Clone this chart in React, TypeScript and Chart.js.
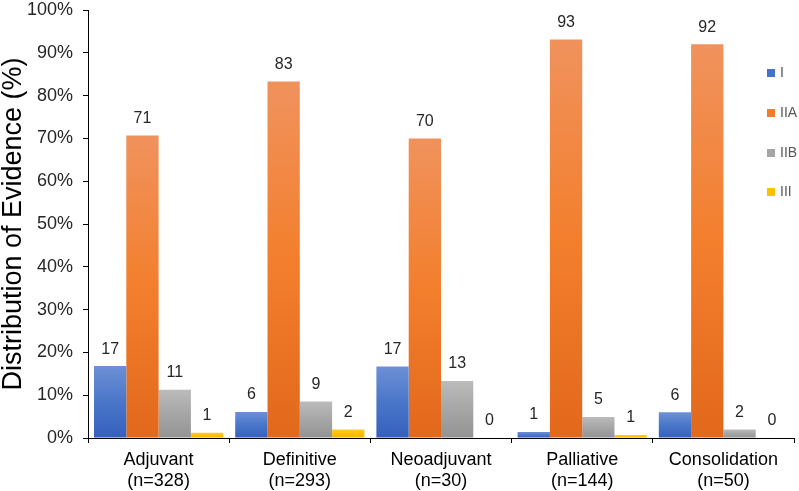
import React, { useEffect, useRef } from "react";
import { Chart, registerables } from "chart.js";

Chart.register(...registerables);

const categories: string[][] = [
  ["Adjuvant", "(n=328)"],
  ["Definitive", "(n=293)"],
  ["Neoadjuvant", "(n=30)"],
  ["Palliative", "(n=144)"],
  ["Consolidation", "(n=50)"],
];

const seriesNames = ["I", "IIA", "IIB", "III"];

const valuesI = [16.8, 6.1, 16.7, 1.4, 6.0];
const valuesIIA = [70.7, 83.3, 70.0, 93.1, 92.0];
const valuesIIB = [11.3, 8.5, 13.3, 4.9, 2.0];
const valuesIII = [1.2, 2.0, 0, 0.7, 0];

const yTicks = [0, 10, 20, 30, 40, 50, 60, 70, 80, 90, 100];

const FONT = "'Liberation Sans', Arial, sans-serif";

const palettes = [
  { solid: "#4472C4", top: "#6D90D6", mid: "#4A76C9", bottom: "#3460BD" },
  { solid: "#ED7D31", top: "#F0925D", mid: "#F37F2D", bottom: "#E2681B" },
  { solid: "#A5A5A5", top: "#BBBBBB", mid: "#A6A6A6", bottom: "#939393" },
  { solid: "#FFC000", top: "#FFCB2E", mid: "#FFC000", bottom: "#F2B300" },
];

function gradientFor(idx: number) {
  const p = palettes[idx];
  return (ctx: any) => {
    const chart = ctx.chart;
    const { chartArea, scales } = chart;
    if (!chartArea || ctx.type !== "data" || !scales.y) return p.solid;
    const v = ctx.raw as number;
    const top = scales.y.getPixelForValue(v);
    const bottom = scales.y.getPixelForValue(0);
    if (!isFinite(top) || bottom - top < 1) return p.solid;
    const g = chart.ctx.createLinearGradient(0, top, 0, bottom);
    g.addColorStop(0, p.top);
    g.addColorStop(0.5, p.mid);
    g.addColorStop(1, p.bottom);
    return g;
  };
}

const valueLabels = {
  id: "valueLabels",
  afterDatasetsDraw(chart: any) {
    const ctx = chart.ctx;
    ctx.save();
    ctx.font = `16px ${FONT}`;
    ctx.fillStyle = "#262626";
    ctx.textAlign = "center";
    ctx.textBaseline = "middle";
    chart.data.datasets.forEach((ds: any, di: number) => {
      const meta = chart.getDatasetMeta(di);
      meta.data.forEach((bar: any, i: number) => {
        const v = ds.data[i] as number;
        ctx.fillText(String(Math.round(v)), bar.x, bar.y - 17);
      });
    });
    ctx.restore();
  },
};

const sideLegend = {
  id: "sideLegend",
  afterDraw(chart: any) {
    const ctx = chart.ctx;
    ctx.save();
    ctx.font = `14px ${FONT}`;
    ctx.textBaseline = "middle";
    ctx.textAlign = "left";
    const ys = [73, 113, 153, 192];
    seriesNames.forEach((name, i) => {
      const y = ys[i];
      ctx.fillStyle = palettes[i].solid;
      ctx.fillRect(767, y - 4, 8, 8);
      ctx.fillStyle = "#595959";
      ctx.fillText(name, 780, y);
    });
    ctx.restore();
  },
};

export default function App() {
  const ref = useRef<HTMLCanvasElement | null>(null);

  useEffect(() => {
    if (!ref.current) return;
    const allSeries = [valuesI, valuesIIA, valuesIIB, valuesIII];
    const chart = new Chart(ref.current, {
      type: "bar",
      data: {
        labels: categories,
        datasets: allSeries.map((vals, i) => ({
          label: seriesNames[i],
          data: vals,
          backgroundColor: gradientFor(i),
          borderWidth: 0,
          categoryPercentage: 0.915,
          barPercentage: 1.0,
        })),
      },
      options: {
        responsive: false,
        animation: false,
        layout: { padding: { top: 10, right: 5, left: 0, bottom: 0 } },
        plugins: {
          legend: { display: false },
          tooltip: { enabled: false },
        },
        scales: {
          x: {
            afterFit: (s: any) => {
              s.height = 53;
              s.paddingLeft = 0;
              s.paddingRight = 0;
            },
            border: { color: "#000", width: 1 },
            grid: {
              offset: true,
              drawOnChartArea: false,
              drawTicks: true,
              tickLength: 5,
              color: "#000",
            },
            ticks: {
              color: "#000",
              padding: 6,
              font: { family: FONT, size: 18 },
              maxRotation: 0,
            },
          },
          y: {
            min: 0,
            max: 100,
            afterFit: (s: any) => {
              s.width = 88;
              s.paddingTop = 0;
              s.paddingBottom = 0;
            },
            afterBuildTicks: (s: any) => {
              s.ticks = yTicks.map((v) => ({ value: v }));
            },
            border: { color: "#000", width: 1 },
            grid: {
              drawOnChartArea: false,
              drawTicks: true,
              tickLength: 5,
              color: "#000",
            },
            ticks: {
              color: "#262626",
              padding: 10,
              font: { family: FONT, size: 18 },
              callback: (v: any) => `${v}%`,
            },
            title: {
              display: true,
              text: "Distribution of Evidence (%)",
              color: "#000",
              font: { family: FONT, size: 27, lineHeight: 1 },
              padding: { top: 0, bottom: 0 },
            },
          },
        },
      },
      plugins: [valueLabels, sideLegend],
    });
    return () => chart.destroy();
  }, []);

  return (
    <div style={{ position: "absolute", left: 0, top: 0, width: 799, height: 491, background: "#fff" }}>
      <canvas ref={ref} width={799} height={491} />
    </div>
  );
}
